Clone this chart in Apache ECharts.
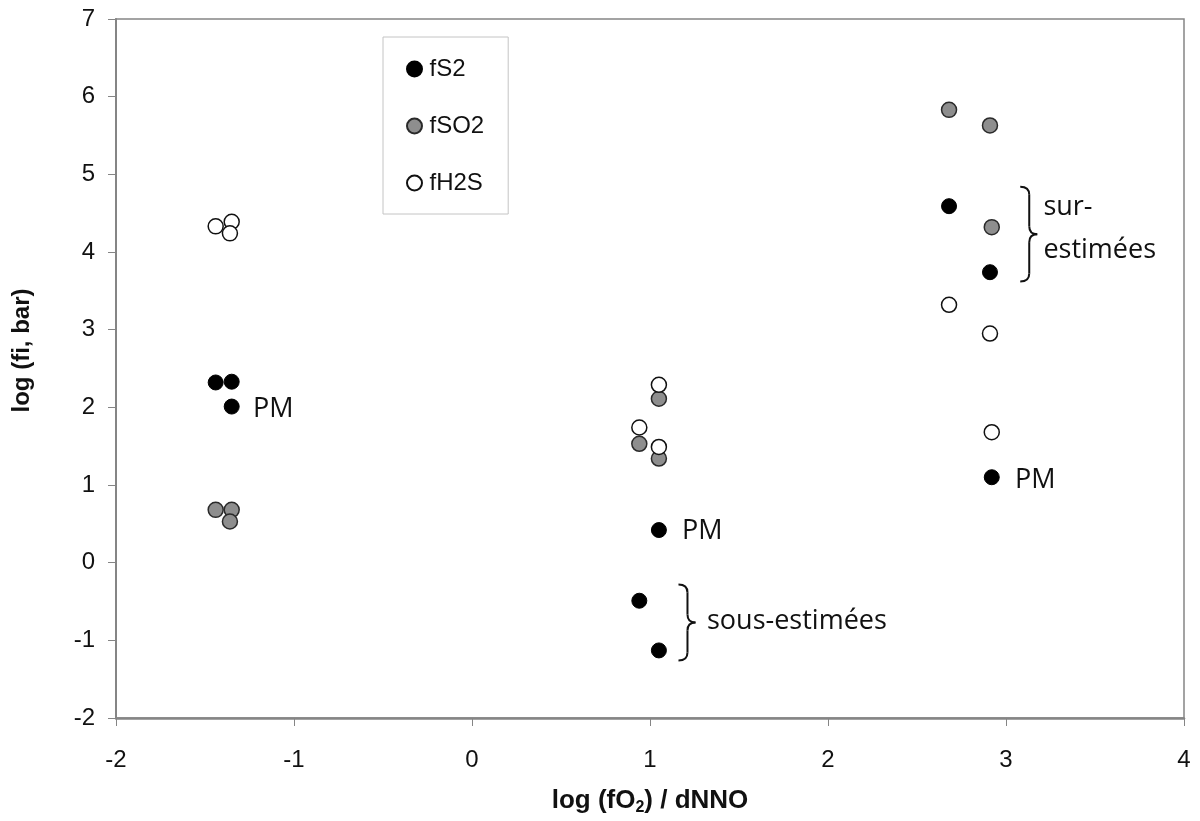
<!DOCTYPE html>
<html>
<head>
<meta charset="utf-8">
<script src="https://cdn.jsdelivr.net/npm/echarts/dist/echarts.min.js"></script>
<style>
  html, body { margin: 0; padding: 0; background: #fff; }
  #chart { width: 1200px; height: 821px; }
</style>
</head>
<body>
<div id="chart"></div>
<script>
// log(fO2)/dNNO , log(fi, bar)
var fS2 = [[-1.44, 2.32], [-1.35, 2.33], [-1.35, 2.01], [0.94, -0.49], [1.05, 0.42], [1.05, -1.13], [2.68, 4.59], [2.91, 3.74], [2.92, 1.10]];
var fSO2 = [[-1.44, 0.68], [-1.35, 0.68], [-1.36, 0.53], [0.94, 1.53], [1.05, 2.11], [1.05, 1.34], [2.68, 5.83], [2.91, 5.63], [2.92, 4.32]];
var fH2S = [[-1.44, 4.33], [-1.35, 4.39], [-1.36, 4.24], [0.94, 1.74], [1.05, 2.29], [1.05, 1.49], [2.68, 3.32], [2.91, 2.95], [2.92, 1.68]];

// annotations (data coords): text, x, y
var notes = [
  ['PM', -1.23, 1.97],
  ['PM', 1.18, 0.40],
  ['PM', 3.05, 1.06],
  ['sous-estimées', 1.32, -0.76],
  ['sur-', 3.21, 4.58],
  ['estimées', 3.21, 4.02]
];
// braces: x left, y top, y bottom
var braces = [
  [1.16, -0.28, -1.26],
  [3.08, 4.84, 3.62]
];

var chart = echarts.init(document.getElementById('chart'));
var grey = '#858585';
var tickFont = { fontFamily: 'Liberation Sans, Arial', fontSize: 24, color: '#111' };

var option = {
  animation: false,
  backgroundColor: '#fff',
  grid: { left: 116, right: 16, top: 19, bottom: 98, show: true, borderColor: grey, borderWidth: 1.5 },
  legend: {
    orient: 'vertical',
    left: 383, top: 37,
    padding: [20, 24, 19, 23],
    itemGap: 33,
    itemWidth: 20, itemHeight: 15,
    backgroundColor: '#fff',
    borderColor: '#c4c4c4', borderWidth: 1,
    textStyle: { fontFamily: 'Liberation Sans, Arial', fontSize: 24, color: '#111' },
    data: ['fS2', 'fSO2', 'fH2S']
  },
  xAxis: {
    type: 'value', min: -2, max: 4, interval: 1,
    name: 'log (fO{sub|2}) / dNNO',
    nameLocation: 'middle', nameGap: 68,
    nameTextStyle: {
      fontFamily: 'Liberation Sans, Arial', fontSize: 26, fontWeight: 'bold', color: '#111',
      rich: { sub: { fontSize: 16, fontWeight: 'bold', verticalAlign: 'bottom', padding: [14, 0, 0, 0] } }
    },
    axisLine: { onZero: false, lineStyle: { color: grey, width: 2.5 } },
    axisTick: { show: true, length: 8, lineStyle: { color: grey } },
    axisLabel: Object.assign({ margin: 30 }, tickFont),
    splitLine: { show: false }
  },
  yAxis: {
    type: 'value', min: -2, max: 7, interval: 1,
    name: 'log (fi, bar)',
    nameLocation: 'middle', nameGap: 82,
    nameTextStyle: { fontFamily: 'Liberation Sans, Arial', fontSize: 24, fontWeight: 'bold', color: '#111', padding: [0, 0, 0, 36] },
    axisLine: { onZero: false, lineStyle: { color: grey, width: 2 } },
    axisTick: { show: true, length: 8, lineStyle: { color: grey } },
    axisLabel: Object.assign({ margin: 21 }, tickFont),
    splitLine: { show: false }
  },
  series: [
    { name: 'fS2', type: 'scatter', symbol: 'circle', symbolSize: 15, data: fS2,
      itemStyle: { color: '#000', borderColor: '#000', borderWidth: 1, opacity: 1 } },
    { name: 'fSO2', type: 'scatter', symbol: 'circle', symbolSize: 15, data: fSO2,
      itemStyle: { color: '#8e8e8e', borderColor: '#2a2a2a', borderWidth: 1.5, opacity: 1 } },
    { name: 'fH2S', type: 'scatter', symbol: 'circle', symbolSize: 15, data: fH2S,
      itemStyle: { color: '#fff', borderColor: '#111', borderWidth: 1.5, opacity: 1 } }
  ]
};
chart.setOption(option);

// annotations placed from data coords
var gfx = [];
notes.forEach(function (n) {
  var p = chart.convertToPixel({ gridIndex: 0 }, [n[1], n[2]]);
  gfx.push({
    type: 'text', x: p[0], y: p[1], z: 10,
    style: { text: n[0], fontFamily: 'Open Sans', fontSize: 27, fill: '#111', align: 'left', verticalAlign: 'middle' }
  });
});
var lineStyle = { stroke: '#111', lineWidth: 2, fill: null };
braces.forEach(function (b) {
  var top = chart.convertToPixel({ gridIndex: 0 }, [b[0], b[1]]);
  var bot = chart.convertToPixel({ gridIndex: 0 }, [b[0], b[2]]);
  var x0 = top[0], y0 = top[1], y1 = bot[1];
  var xm = x0 + 9, x1 = x0 + 17, ym = (y0 + y1) / 2, r = 8;
  var segs = [
    { type: 'bezierCurve', shape: { x1: x0, y1: y0, cpx1: xm, cpy1: y0, x2: xm, y2: y0 + r } },
    { type: 'line', shape: { x1: xm, y1: y0 + r, x2: xm, y2: ym - r } },
    { type: 'bezierCurve', shape: { x1: xm, y1: ym - r, cpx1: xm, cpy1: ym, x2: x1, y2: ym } },
    { type: 'bezierCurve', shape: { x1: x1, y1: ym, cpx1: xm, cpy1: ym, x2: xm, y2: ym + r } },
    { type: 'line', shape: { x1: xm, y1: ym + r, x2: xm, y2: y1 - r } },
    { type: 'bezierCurve', shape: { x1: xm, y1: y1 - r, cpx1: xm, cpy1: y1, x2: x0, y2: y1 } }
  ];
  segs.forEach(function (s) {
    s.style = lineStyle;
    s.z = 10;
    gfx.push(s);
  });
});
chart.setOption({ graphic: gfx });
</script>
</body>
</html>
